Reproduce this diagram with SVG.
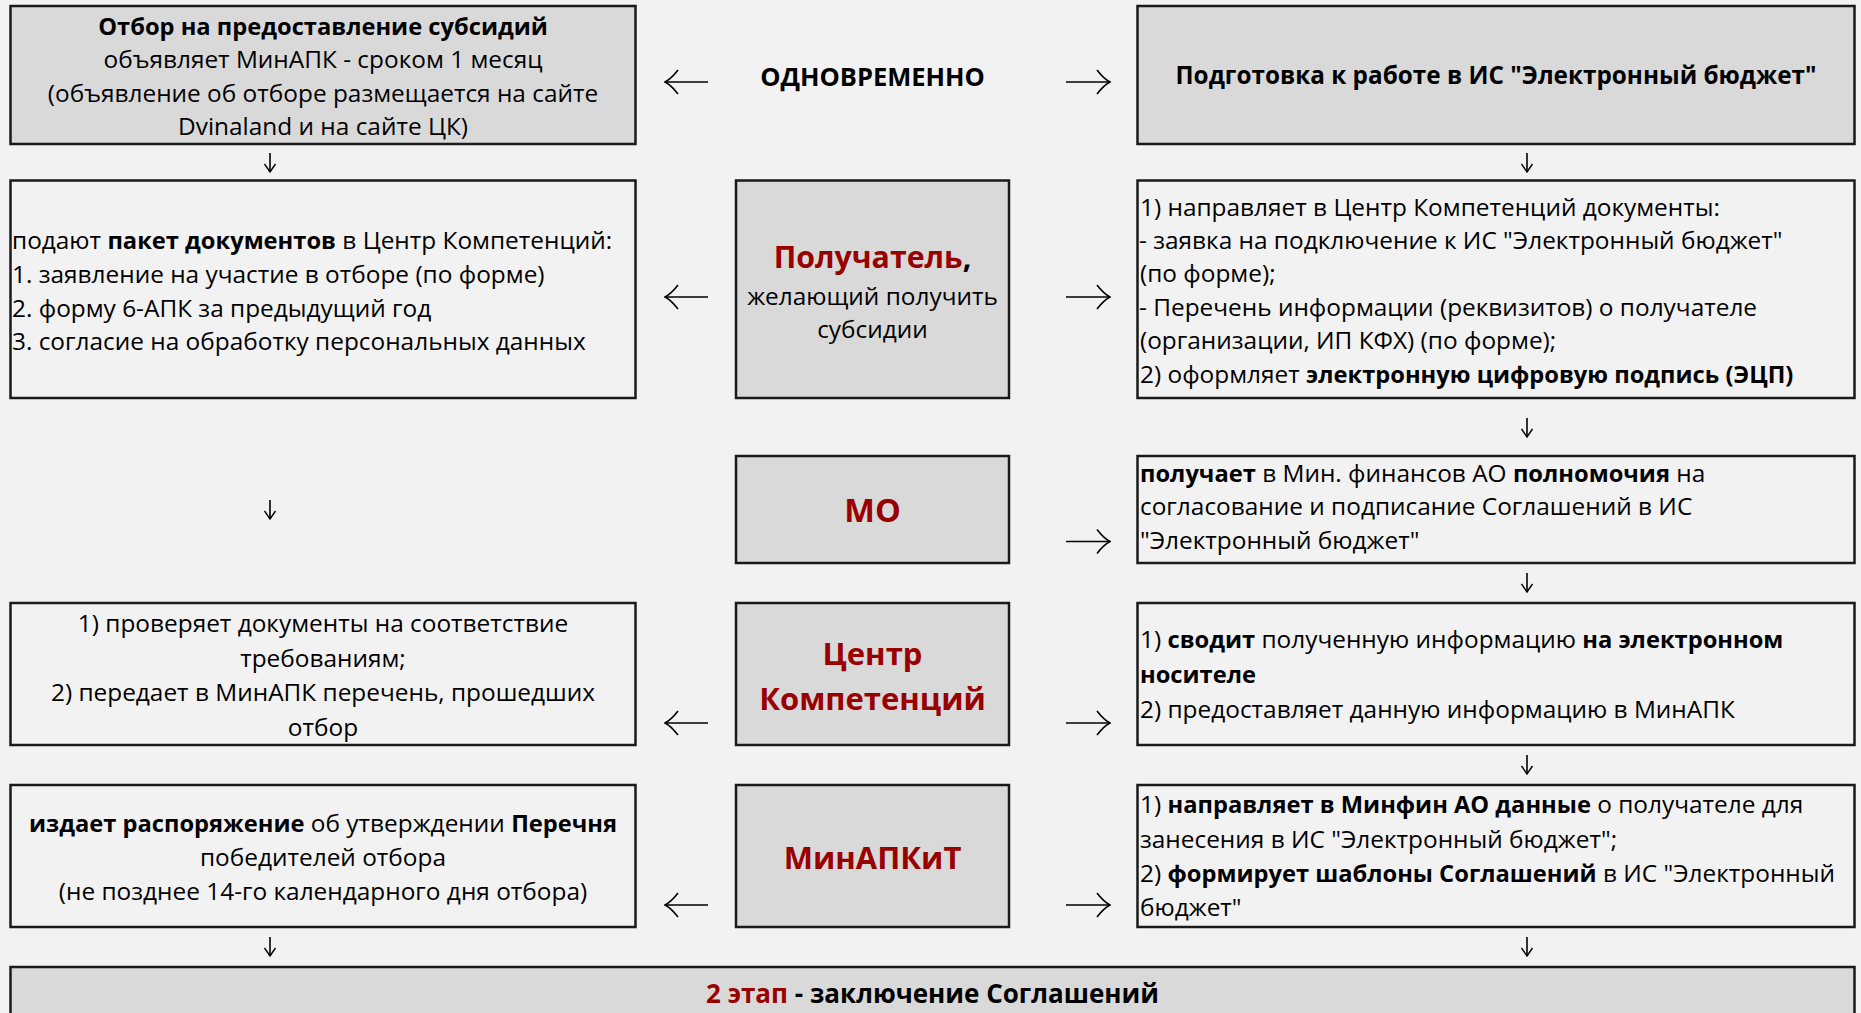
<svg xmlns="http://www.w3.org/2000/svg" width="1861" height="1013" viewBox="0 0 1861 1013">
<style>
.box{stroke:#1a1a1a;stroke-width:2.5}
.g{fill:#d9d9d9}
.w{fill:#f2f2f2}
text{font-family:"Open Sans","Liberation Sans",sans-serif;font-size:24.4px;fill:#000}
.c{text-anchor:middle}
.b{font-weight:700;font-size:23.7px}
.red{fill:#990000}
.lab{font-size:31px;font-weight:700;fill:#990000;text-anchor:middle}
.hd{font-weight:700;font-size:24.3px}
.conn path{fill:none;stroke:#000;stroke-width:1.6}
</style>
<defs>
<marker id="ah" markerUnits="userSpaceOnUse" viewBox="0 0 15 26" refX="14" refY="13" markerWidth="15" markerHeight="26" orient="auto">
<path d="M1,1 Q8,10 14,13 Q8,16 1,25" fill="none" stroke="#000" stroke-width="1.6"/>
</marker>
<marker id="as" markerUnits="userSpaceOnUse" viewBox="0 0 10 13" refX="9" refY="6.5" markerWidth="10" markerHeight="13" orient="auto">
<path d="M1,1 L9,6.5 L1,12" fill="none" stroke="#000" stroke-width="1.4"/>
</marker>
</defs>
<rect width="1861" height="1013" fill="#f2f2f2"/>

<g id="otbor">
<rect class="box g" x="10.5" y="6" width="625" height="138"/>
<text class="c" x="323" y="34.5"><tspan class="b">Отбор на предоставление субсидий</tspan></text>
<text class="c" x="323" y="68">объявляет МинАПК - сроком 1 месяц</text>
<text class="c" x="323" y="101.5">(объявление об отборе размещается на сайте</text>
<text class="c" x="323" y="135">Dvinaland и на сайте ЦК)</text>
</g>

<g id="odnovremenno">
<text class="c hd" x="872.5" y="85.5" style="font-size:25.5px">ОДНОВРЕМЕННО</text>
</g>

<g id="podgotovka">
<rect class="box g" x="1137.5" y="6" width="717" height="138"/>
<text class="c hd" x="1496" y="84">Подготовка к работе в ИС "Электронный бюджет"</text>
</g>

<g id="paket">
<rect class="box w" x="10.5" y="180.5" width="625" height="217.5"/>
<text x="12" y="248.5">подают <tspan class="b">пакет документов</tspan> в Центр Компетенций:</text>
<text x="12" y="282.5">1. заявление на участие в отборе (по форме)</text>
<text x="12" y="316.5">2. форму 6-АПК за предыдущий год</text>
<text x="12" y="350">3. согласие на обработку персональных данных</text>
</g>

<g id="poluchatel">
<rect class="box g" x="736" y="180.5" width="273" height="217.5"/>
<text class="lab" x="872.5" y="268" style="font-size:30.3px">Получатель<tspan fill="#000">,</tspan></text>
<text class="c" x="872.5" y="305">желающий получить</text>
<text class="c" x="872.5" y="338">субсидии</text>
</g>

<g id="napravlyaet">
<rect class="box w" x="1137.5" y="180.5" width="717" height="217.5"/>
<text x="1140" y="215.5">1) направляет в Центр Компетенций документы:</text>
<text x="1139" y="249">- заявка на подключение к ИС "Электронный бюджет"</text>
<text x="1140" y="282">(по форме);</text>
<text x="1139" y="315.5">- Перечень информации (реквизитов) о получателе</text>
<text x="1140" y="349">(организации, ИП КФХ) (по форме);</text>
<text x="1140" y="382.5">2) оформляет <tspan class="b">электронную цифровую подпись (ЭЦП)</tspan></text>
</g>

<g id="mo">
<rect class="box g" x="736" y="456" width="273" height="107"/>
<text class="lab" x="872.5" y="522" style="font-size:32.5px">МО</text>
</g>

<g id="polnomochiya">
<rect class="box w" x="1137.5" y="456" width="717" height="107"/>
<text x="1140" y="481.5"><tspan class="b">получает</tspan> в Мин. финансов АО <tspan class="b">полномочия</tspan> на</text>
<text x="1140" y="515">согласование и подписание Соглашений в ИС</text>
<text x="1140" y="548.5">"Электронный бюджет"</text>
</g>

<g id="proveryaet">
<rect class="box w" x="10.5" y="603" width="625" height="142"/>
<text class="c" x="323" y="632">1) проверяет документы на соответствие</text>
<text class="c" x="323" y="666.5">требованиям;</text>
<text class="c" x="323" y="701">2) передает в МинАПК перечень, прошедших</text>
<text class="c" x="323" y="735.5">отбор</text>
</g>

<g id="centr">
<rect class="box g" x="736" y="603" width="273" height="142"/>
<text class="lab" x="872.5" y="665">Центр</text>
<text class="lab" x="872.5" y="710">Компетенций</text>
</g>

<g id="svodit">
<rect class="box w" x="1137.5" y="603" width="717" height="142"/>
<text x="1140" y="648">1) <tspan class="b">сводит</tspan> полученную информацию <tspan class="b">на электронном</tspan></text>
<text x="1140" y="683"><tspan class="b">носителе</tspan></text>
<text x="1140" y="718">2) предоставляет данную информацию в МинАПК</text>
</g>

<g id="rasporyazhenie">
<rect class="box w" x="10.5" y="785" width="625" height="142"/>
<text class="c" x="323" y="831.5"><tspan class="b">издает распоряжение</tspan> об утверждении <tspan class="b">Перечня</tspan></text>
<text class="c" x="323" y="866">победителей отбора</text>
<text class="c" x="323" y="900">(не позднее 14-го календарного дня отбора)</text>
</g>

<g id="minapkit">
<rect class="box g" x="736" y="785" width="273" height="142"/>
<text class="lab" x="872.5" y="869">МинАПКиТ</text>
</g>

<g id="shablony">
<rect class="box w" x="1137.5" y="785" width="717" height="142"/>
<text x="1140" y="813">1) <tspan class="b">направляет в Минфин АО данные</tspan> о получателе для</text>
<text x="1140" y="847.5">занесения в ИС "Электронный бюджет";</text>
<text x="1140" y="882">2) <tspan class="b">формирует шаблоны Соглашений</tspan> в ИС "Электронный</text>
<text x="1140" y="916">бюджет"</text>
</g>

<g id="etap2">
<rect class="box g" x="10.5" y="967" width="1844" height="60"/>
<text class="c hd" x="932.5" y="1003" style="font-size:26px"><tspan class="red">2 этап</tspan> - заключение Соглашений</text>
</g>

<g id="connectors" class="conn">
<path d="M708,82 H665" marker-end="url(#ah)"/>
<path d="M1066,82 H1110" marker-end="url(#ah)"/>
<path d="M708,297 H665" marker-end="url(#ah)"/>
<path d="M1066,297 H1110" marker-end="url(#ah)"/>
<path d="M1066,541.5 H1110" marker-end="url(#ah)"/>
<path d="M708,723 H665" marker-end="url(#ah)"/>
<path d="M1066,723 H1110" marker-end="url(#ah)"/>
<path d="M708,905 H665" marker-end="url(#ah)"/>
<path d="M1066,905 H1110" marker-end="url(#ah)"/>
<path d="M270,153 V172" marker-end="url(#as)"/>
<path d="M270,500 V519" marker-end="url(#as)"/>
<path d="M270,937 V956" marker-end="url(#as)"/>
<path d="M1527,153 V172" marker-end="url(#as)"/>
<path d="M1527,418 V437" marker-end="url(#as)"/>
<path d="M1527,573 V592" marker-end="url(#as)"/>
<path d="M1527,755 V774" marker-end="url(#as)"/>
<path d="M1527,937 V956" marker-end="url(#as)"/>
</g>
</svg>
